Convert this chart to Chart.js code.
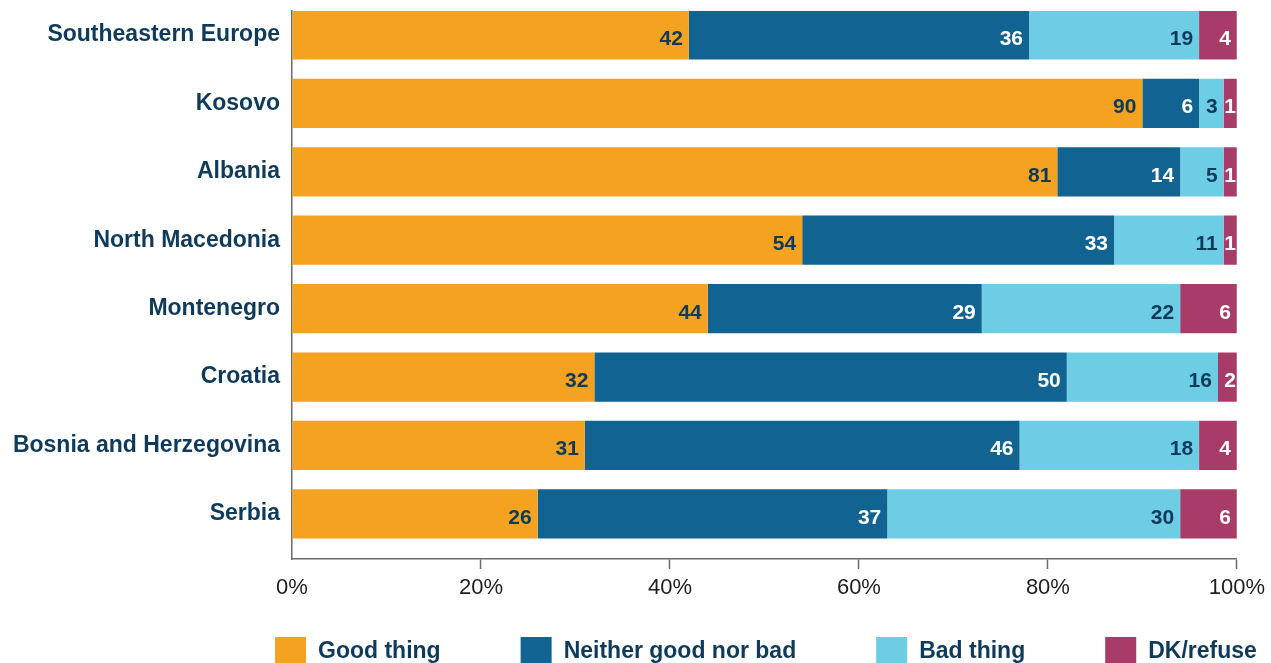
<!DOCTYPE html>
<html>
<head>
<meta charset="utf-8">
<title>Good thing / bad thing by country</title>
<script src="https://cdn.jsdelivr.net/npm/chart.js@4.4.0/dist/chart.umd.min.js"></script>
<style>
  html, body { margin: 0; padding: 0; background: #fff; overflow: hidden; }
  #wrap { width: 1271px; height: 663px; position: relative; }
</style>
</head>
<body>
<div id="wrap"><canvas id="chart"></canvas></div>
<script>
// categories, top to bottom
const categories = ['Southeastern Europe', 'Kosovo', 'Albania', 'North Macedonia',
  'Montenegro', 'Croatia', 'Bosnia and Herzegovina', 'Serbia'];

// segment lengths as drawn (%)
const goodThing = [42, 90, 81, 54, 44, 32, 31, 26];
const neither   = [36, 6, 13, 33, 29, 50, 46, 37];
const badThing  = [18, 2.6, 4.6, 11.6, 21, 16, 19, 31];
const dkRefuse  = [4, 1.4, 1.4, 1.4, 6, 2, 4, 6];

// numbers printed on the segments
const goodLabels    = [42, 90, 81, 54, 44, 32, 31, 26];
const neitherLabels = [36, 6, 14, 33, 29, 50, 46, 37];
const badLabels     = [19, 3, 5, 11, 22, 16, 18, 30];
const dkLabels      = [4, 1, 1, 1, 6, 2, 4, 6];

const xTicks = [0, 20, 40, 60, 80, 100];

const navy = '#0e3a5c';
const axisGrey = '#6b6b6b';
const fontFamily = '"Liberation Sans", Arial, sans-serif';

const toPoints = arr => arr.map((v, i) => ({ x: v, y: i }));

// values printed at the inner end of each segment
const barLabels = {
  id: 'barLabels',
  afterDatasetsDraw(chart) {
    const c = chart.ctx;
    c.save();
    c.font = 'bold 21px ' + fontFamily;
    c.textAlign = 'right';
    c.textBaseline = 'alphabetic';
    chart.data.datasets.forEach((ds, di) => {
      const meta = chart.getDatasetMeta(di);
      meta.data.forEach((bar, i) => {
        const txt = String(ds.printed[i]);
        const w = c.measureText(txt).width;
        const pad = (bar.x - bar.base) < w + 8 ? 1 : 6;
        c.fillStyle = ds.labelColor;
        c.fillText(txt, bar.x - pad, bar.y + 10);
      });
    });
    c.restore();
  }
};

// legend row under the axis
const bottomLegend = {
  id: 'bottomLegend',
  afterDraw(chart, args, opts) {
    const c = chart.ctx;
    c.save();
    c.font = 'bold 23px ' + fontFamily;
    c.textAlign = 'left';
    c.textBaseline = 'alphabetic';
    let x = opts.x;
    const top = chart.chartArea.bottom + opts.offset;
    chart.data.datasets.forEach(ds => {
      c.fillStyle = ds.backgroundColor;
      c.fillRect(x, top, opts.box, opts.box);
      const tx = x + opts.box + 12;
      c.fillStyle = navy;
      c.fillText(ds.label, tx, top + 21);
      x = tx + c.measureText(ds.label).width + opts.gap;
    });
    c.restore();
  }
};

const ctx = document.getElementById('chart').getContext('2d');

new Chart(ctx, {
  type: 'bar',
  data: {
    datasets: [
      { label: 'Good thing', data: toPoints(goodThing), printed: goodLabels,
        backgroundColor: '#f4a21f', labelColor: navy, stack: 'all' },
      { label: 'Neither good nor bad', data: toPoints(neither), printed: neitherLabels,
        backgroundColor: '#116391', labelColor: '#ffffff', stack: 'all' },
      { label: 'Bad thing', data: toPoints(badThing), printed: badLabels,
        backgroundColor: '#6ccde4', labelColor: navy, stack: 'all' },
      { label: 'DK/refuse', data: toPoints(dkRefuse), printed: dkLabels,
        backgroundColor: '#a83b68', labelColor: '#ffffff', stack: 'all' }
    ]
  },
  options: {
    indexAxis: 'y',
    responsive: true,
    maintainAspectRatio: false,
    animation: false,
    categoryPercentage: 1,
    barPercentage: 0.72,
    borderWidth: 0,
    layout: { padding: { top: 11, right: 33, bottom: 62, left: 0 } },
    plugins: {
      legend: { display: false },
      tooltip: { enabled: false },
      bottomLegend: { x: 275, offset: 78, box: 31, gap: 80 }
    },
    scales: {
      x: {
        type: 'linear',
        stacked: true,
        offset: false,
        min: 0,
        max: 100,
        afterBuildTicks: s => { s.ticks = xTicks.map(v => ({ value: v })); },
        afterFit: s => { s.height = 42; },
        grid: {
          drawOnChartArea: false,
          drawTicks: true,
          tickLength: 10,
          tickWidth: 1.5,
          tickColor: c => c.index === 0 ? 'rgba(0,0,0,0)' : axisGrey
        },
        border: { color: axisGrey, width: 1.5 },
        ticks: {
          padding: 6,
          maxRotation: 0,
          color: '#1e1e1e',
          font: { family: fontFamily, size: 22 },
          callback: v => v + '%'
        }
      },
      y: {
        type: 'linear',
        reverse: true,
        offset: false,
        bounds: 'data',
        min: -0.35,
        max: 7.66,
        afterBuildTicks: s => { s.ticks = categories.map((_, i) => ({ value: i })); },
        afterFit: s => { s.width = 292; s.paddingTop = 0; s.paddingBottom = 0; },
        grid: { drawOnChartArea: false, drawTicks: false, offset: false },
        border: { color: axisGrey, width: 1.5 },
        ticks: {
          autoSkip: false,
          padding: 12,
          color: navy,
          font: { family: fontFamily, size: 23, weight: 'bold' },
          callback: v => categories[v]
        }
      }
    }
  },
  plugins: [barLabels, bottomLegend]
});
</script>
</body>
</html>
